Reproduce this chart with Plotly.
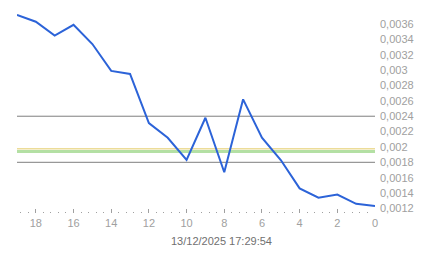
import plotly.graph_objects as go

# data
x_vals = [19, 18, 17, 16, 15, 14, 13, 12, 11, 10, 9, 8, 7, 6, 5, 4, 3, 2, 1, 0]
y_vals = [0.00372, 0.00363, 0.00345, 0.00359, 0.00334, 0.00299, 0.00295, 0.00231,
          0.00212, 0.00183, 0.00238, 0.00167, 0.00262, 0.00212, 0.00183, 0.00146,
          0.00134, 0.00138, 0.00126, 0.00123]
gray_levels = [0.0024, 0.0018]
yellow_level = 0.001976
green_level = 0.00194
x_span = [19, 0]
y_ticks = [0.0012, 0.0014, 0.0016, 0.0018, 0.002, 0.0022, 0.0024, 0.0026,
           0.0028, 0.003, 0.0032, 0.0034, 0.0036]
x_ticks = [18, 16, 14, 12, 10, 8, 6, 4, 2, 0]
title_text = "13/12/2025 17:29:54"

fig = go.Figure()
for lv in gray_levels:
    fig.add_trace(go.Scatter(x=x_span, y=[lv, lv], mode="lines",
                             line=dict(color="#7f7f7f", width=1), hoverinfo="skip"))
fig.add_trace(go.Scatter(x=x_span, y=[green_level, green_level], mode="lines",
                         line=dict(color="#b4e0a4", width=3), hoverinfo="skip"))
fig.add_trace(go.Scatter(x=x_span, y=[yellow_level, yellow_level], mode="lines",
                         line=dict(color="#ecdc98", width=1.5), hoverinfo="skip"))
fig.add_trace(go.Scatter(x=x_vals, y=y_vals, mode="lines",
                         line=dict(color="#2c63d8", width=2)))

fig.update_layout(
    width=443, height=258,
    margin=dict(l=17, r=68, t=7, b=45),
    paper_bgcolor="white", plot_bgcolor="white",
    showlegend=False,
    separators=", ",
    font=dict(family="Liberation Sans, Arial, sans-serif", size=11, color="#a0a0a0"),
    xaxis=dict(
        range=[19, 0], showgrid=False, zeroline=False, showline=False,
        tickvals=x_ticks, ticks="inside", ticklen=4, tickcolor="#a0a0a0", tickwidth=1,
        ticklabelstandoff=2,
        minor=dict(dtick=0.4, tick0=0, ticks="inside", ticklen=1, tickcolor="#a0a0a0", showgrid=False),
    ),
    yaxis=dict(
        range=[0.00114, 0.003822], side="right", showgrid=False, zeroline=False,
        showline=False, tickvals=y_ticks, ticks="", ticklabelstandoff=4,
    ),
    annotations=[dict(text=title_text, xref="paper", yref="paper", x=0.571, y=-0.136,
                      xanchor="center", yanchor="middle", showarrow=False,
                      font=dict(color="#707070", size=11))],
)

fig.write_html("out.html")
